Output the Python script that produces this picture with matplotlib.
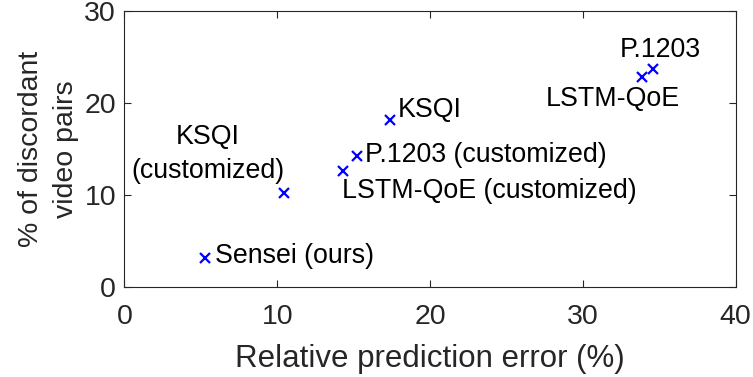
import matplotlib.pyplot as plt

plt.rcParams['font.family'] = ['Liberation Sans', 'DejaVu Sans']

# relative prediction error (%) vs. % of discordant video pairs
names = ['Sensei (ours)', 'KSQI\n(customized)', 'LSTM-QoE (customized)',
         'P.1203 (customized)', 'KSQI', 'LSTM-QoE', 'P.1203']
err = [5.3, 10.45, 14.3, 15.2, 17.4, 33.9, 34.6]
discord = [3.15, 10.3, 12.6, 14.3, 18.2, 22.9, 23.7]

# label positions (data units) and alignment
lab_x = [5.95, 5.45, 14.25, 15.75, 17.9, 31.95, 35.05]
lab_y = [3.4, 14.5, 10.5, 14.4, 19.3, 20.5, 25.8]
lab_ha = ['left', 'center', 'left', 'left', 'left', 'center', 'center']

grey = '#262626'
fig = plt.figure(figsize=(7.53, 3.77), dpi=100)
ax = fig.add_axes([0.1653, 0.238, 0.8117, 0.732])
ax.plot(err, discord, 'x', color='blue', markersize=7.5, markeredgewidth=1.6)

for n, x, y, ha in zip(names, lab_x, lab_y, lab_ha):
    ax.text(x, y, n, ha=ha, va='center', fontsize=19.3, color='black',
            linespacing=1.4)

ax.set_xlim(0, 40)
ax.set_ylim(0, 30)
ax.set_xticks([0, 10, 20, 30, 40])
ax.set_yticks([0, 10, 20, 30])
ax.tick_params(direction='in', top=True, right=True, labelsize=20.5,
               colors=grey, length=5, width=0.8)
ax.tick_params(axis='x', pad=12)
ax.tick_params(axis='y', pad=6)
for s in ax.spines.values():
    s.set_color(grey)
    s.set_linewidth(0.8)
ax.set_xlabel('Relative prediction error (%)', fontsize=22.5, color=grey, labelpad=10)
ax.set_ylabel('% of discordant\nvideo pairs', fontsize=20.5, color=grey,
              labelpad=4, linespacing=1.45)

plt.savefig('out.png', dpi=100)
